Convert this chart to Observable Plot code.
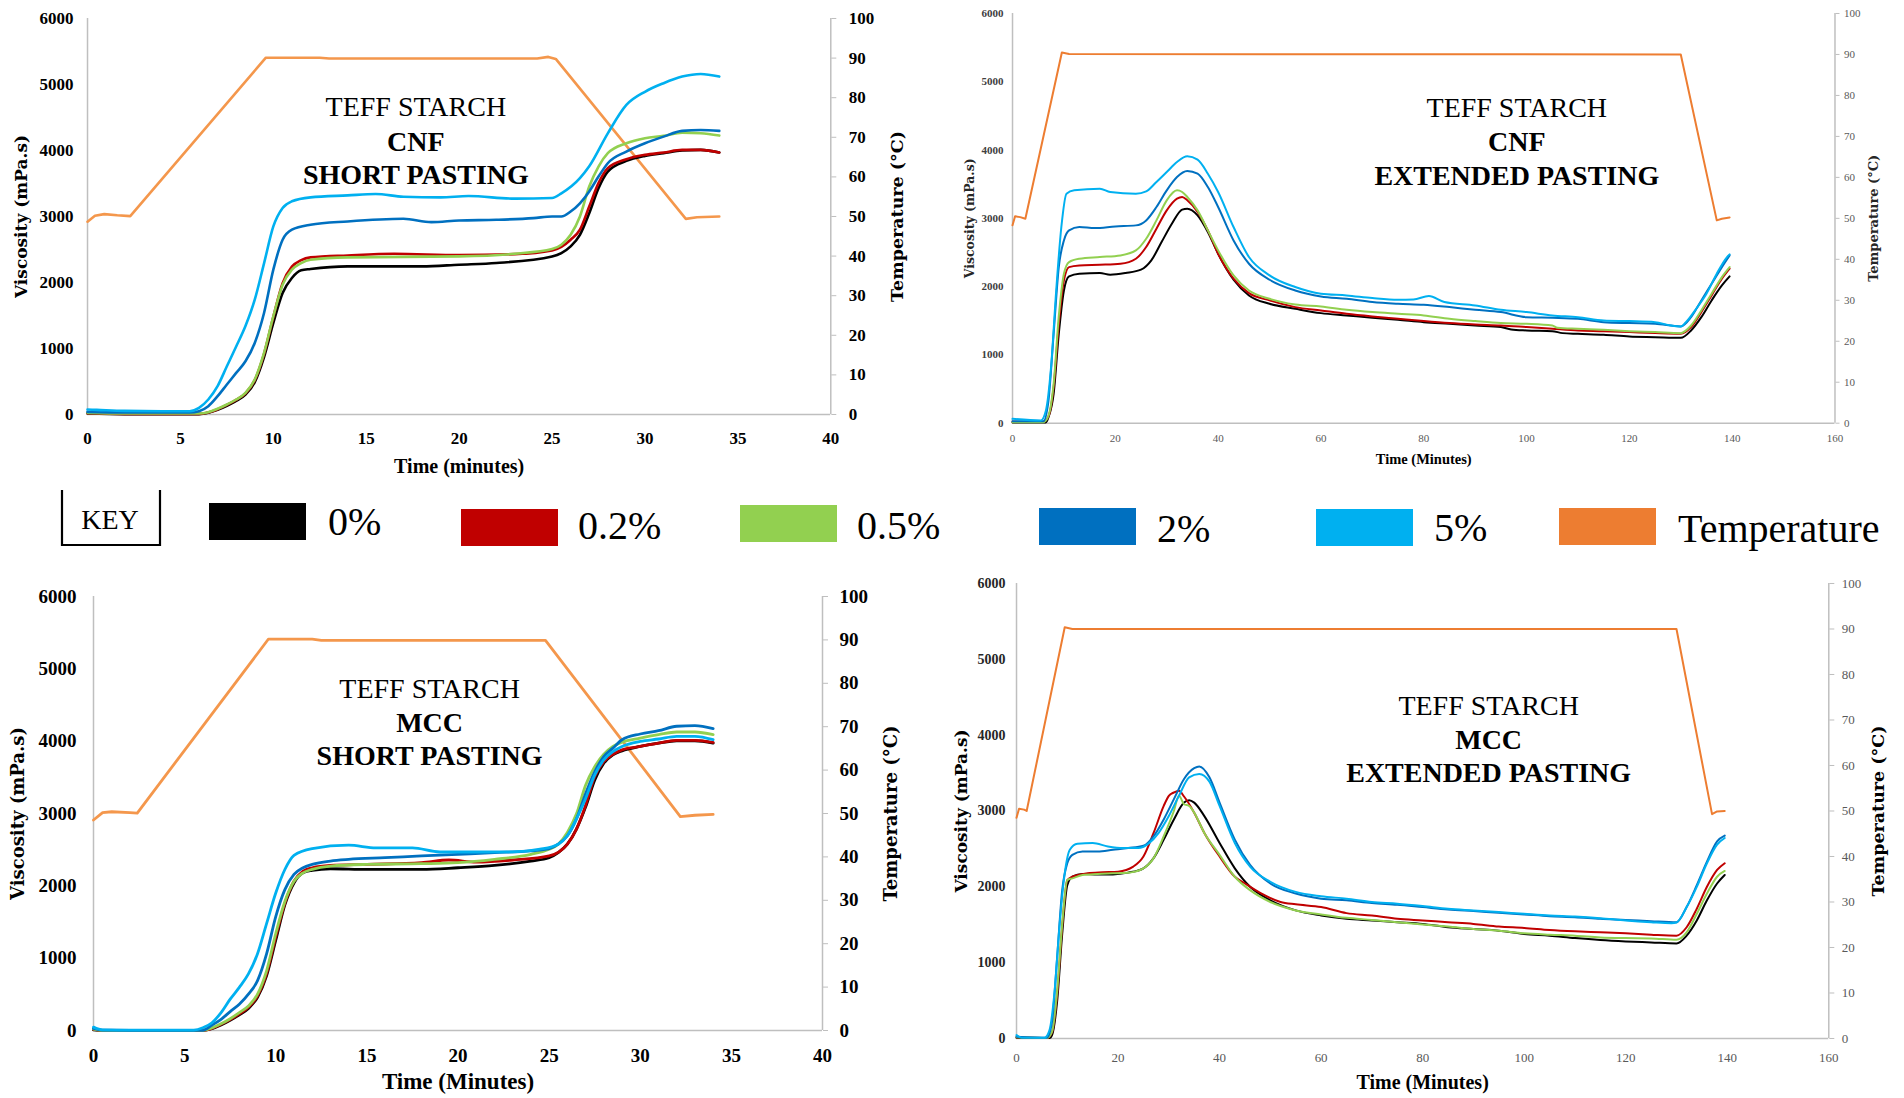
<!DOCTYPE html>
<html><head><meta charset="utf-8">
<script src="https://cdn.jsdelivr.net/npm/d3@7"></script>
<script src="https://cdn.jsdelivr.net/npm/@observablehq/plot@0.6"></script>
<style>
html,body{margin:0;padding:0;background:#fff;}
#root{position:relative;width:1904px;height:1098px;overflow:hidden;background:#fff;}
</style></head><body><div id="root"></div>
<script>
// ---------- DATA: [time (min), value] ----------
// Temperature (°C)
const cnfShortTemp = [[0,48.7],[0.4,50.2],[0.9,50.6],[1.6,50.3],[2.3,50.1],[9.6,90.1],[12.5,90.1],[13,89.9],[24.2,89.9],[24.8,90.3],[25.2,89.8],[32.2,49.4],[32.8,49.8],[34,50]];
const cnfExtTemp = [[0,48.3],[0.5,50.5],[1.5,50.3],[2.5,49.9],[9.6,90.5],[11,90.1],[130,90],[137,49.5],[138,49.9],[139.5,50.2]];
const mccShortTemp = [[0,48.5],[0.5,50.2],[1,50.4],[2,50.2],[2.4,50.1],[9.6,90.2],[12,90.2],[12.5,89.9],[24.8,89.9],[32.2,49.3],[33,49.6],[34,49.8]];
const mccExtTemp = [[0,48.5],[0.5,50.5],[1.5,50.3],[2,50],[9.5,90.4],[11,90],[130,90],[137,49.3],[138,49.9],[139.5,50]];

// Viscosity (mPa.s) — CNF short pasting
const cnfShort0 = [[0,15],[2,5],[6,5],[6.5,25],[7,70],[7.5,130],[8,205],[8.5,300],[9,490],[9.5,870],[10,1387],[10.5,1840],[11,2068],[11.5,2184],[12,2204],[14,2244],[18,2244],[20,2269],[22,2295],[25,2395],[25.5,2446],[26,2547],[26.5,2723],[27,3050],[27.5,3429],[28,3681],[29,3842],[30,3918],[31,3959],[32,3999],[33,4009],[34,3969]];
const cnfShort02 = [[0,20],[2,10],[6,10],[6.5,30],[7,80],[7.5,145],[8,220],[8.5,320],[9,520],[9.5,920],[10,1480],[10.5,1990],[11,2240],[11.5,2340],[12,2380],[14,2410],[16.5,2435],[20,2415],[23,2430],[25,2486],[25.5,2540],[26,2648],[26.5,2800],[27,3150],[27.5,3505],[28,3732],[29,3868],[30,3934],[31,3969],[32,4009],[33,4009],[34,3969]];
const cnfShort05 = [[0,25],[2,15],[6,15],[6.5,35],[7,86],[7.5,151],[8,227],[8.5,328],[9,530],[9.5,933],[10,1488],[10.5,1967],[11,2194],[11.5,2295],[12,2345],[14,2380],[20,2395],[23,2435],[25,2506],[25.5,2572],[26,2723],[26.5,3000],[27,3454],[27.5,3757],[28,3959],[29,4110],[30,4186],[31,4221],[32,4271],[33,4261],[34,4226]];
const cnfShort2 = [[0,40],[2,30],[5.5,30],[6,50],[6.5,126],[7,277],[7.5,454],[8,630],[8.5,807],[9,1084],[9.5,1538],[10,2194],[10.5,2648],[11,2800],[12,2875],[14,2925],[17,2965],[18.5,2915],[20,2940],[22,2950],[24,2975],[25,3000],[25.5,3000],[26,3076],[26.5,3200],[27,3380],[27.5,3605],[28,3807],[29,3984],[30,4110],[31,4210],[32,4297],[33,4310],[34,4297]];
const cnfShort5 = [[0,75],[0.5,70],[2,55],[4,50],[5.5,50],[6,100],[6.5,227],[7,430],[7.5,730],[8,1030],[8.5,1340],[9,1740],[9.5,2290],[10,2850],[10.5,3130],[11,3230],[12,3290],[14,3320],[15.5,3340],[17,3300],[19,3290],[20.5,3310],[23,3270],[25,3280],[25.5,3350],[26.5,3580],[27,3760],[28,4260],[29,4690],[30,4890],[31,5020],[32,5120],[33,5160],[34,5120]];

// CNF extended pasting
const cnfExt0 = [[0,10],[6.5,10],[7,88],[8,430],[9,1309],[10,1944],[11,2150],[13,2190],[17,2199],[19,2174],[22,2199],[25,2248],[27,2384],[29,2653],[31,2921],[33,3127],[34,3142],[36,3044],[38,2800],[40,2482],[43,2101],[46,1871],[50,1749],[55,1676],[60,1612],[65,1578],[70,1544],[75,1514],[80,1480],[85,1456],[90,1431],[95,1407],[97,1373],[100,1358],[105,1348],[107,1319],[110,1309],[115,1294],[120,1270],[125,1260],[130,1250],[132,1358],[134,1553],[136,1798],[138,2018],[139.5,2150]];
const cnfExt02 = [[0,20],[6,20],[7,100],[8,530],[9,1450],[10,2091],[11,2286],[13,2310],[17,2320],[21,2335],[24,2408],[26,2580],[28,2848],[30,3117],[32,3288],[33,3313],[34,3264],[36,3093],[38,2824],[40,2482],[43,2116],[46,1905],[50,1798],[55,1700],[60,1651],[65,1602],[70,1563],[75,1529],[80,1495],[85,1466],[90,1446],[95,1431],[100,1407],[105,1382],[110,1358],[115,1348],[120,1334],[125,1319],[130,1309],[132,1407],[134,1627],[136,1871],[138,2116],[139.5,2262]];
const cnfExt05 = [[0,15],[6,15],[7,112],[8,576],[9,1563],[10,2188],[11,2360],[13,2408],[17,2433],[21,2457],[24,2530],[26,2701],[28,2970],[30,3264],[32,3410],[33,3386],[34,3313],[36,3117],[38,2824],[40,2531],[43,2165],[46,1944],[50,1822],[55,1739],[60,1710],[65,1661],[70,1627],[75,1602],[80,1578],[85,1529],[90,1495],[95,1466],[100,1456],[105,1431],[106,1397],[110,1382],[115,1368],[120,1348],[125,1334],[130,1319],[132,1431],[134,1651],[136,1896],[138,2140],[139.5,2286]];
const cnfExt2 = [[0,29],[6,29],[7,332],[8,1309],[9,2286],[10,2677],[11,2824],[13,2873],[16,2858],[20,2882],[24,2897],[26,2970],[28,3166],[30,3410],[32,3605],[34,3693],[36,3654],[38,3459],[40,3166],[43,2677],[46,2335],[50,2101],[55,1944],[60,1856],[65,1822],[70,1774],[75,1749],[80,1734],[85,1700],[90,1661],[95,1627],[100,1553],[105,1544],[110,1529],[115,1480],[120,1466],[125,1456],[130,1417],[132,1553],[134,1798],[136,2042],[138,2286],[139.5,2457]];
const cnfExt5 = [[0,64],[5.5,39],[6.5,186],[7.5,820],[8.5,1944],[9.5,2873],[10.5,3361],[12,3410],[17,3435],[19,3386],[24,3361],[26,3395],[28,3532],[30,3678],[32,3825],[34,3908],[36,3859],[38,3654],[40,3386],[43,2873],[46,2433],[50,2165],[55,1994],[60,1896],[65,1871],[70,1832],[75,1808],[78,1813],[81,1862],[84,1774],[90,1725],[95,1661],[100,1627],[105,1578],[110,1553],[115,1505],[120,1495],[125,1480],[128,1431],[130,1416],[131,1480],[133,1676],[135,1896],[137,2190],[139,2433],[139.5,2472]];

// MCC short pasting
const mccShort0 = [[0,10],[0.5,2],[6,2],[6.5,25],[7,75],[7.5,140],[8,215],[8.5,305],[9,460],[9.5,760],[10,1248],[10.5,1737],[11,2040],[11.5,2180],[12,2213],[13,2236],[15,2227],[18,2227],[20,2250],[22,2282],[24,2343],[25,2389],[25.5,2459],[26,2576],[26.5,2785],[27,3088],[27.5,3460],[28,3694],[28.5,3810],[29,3866],[30,3927],[31,3973],[32,4006],[33,4006],[34,3973]];
const mccShort02 = [[0,15],[0.5,3],[6,3],[6.5,30],[7,85],[7.5,150],[8,230],[8.5,320],[9,480],[9.5,790],[10,1295],[10.5,1761],[11,2063],[11.5,2203],[12,2250],[13,2282],[15,2296],[18,2320],[19.5,2357],[21,2329],[23,2357],[25,2413],[26,2576],[26.5,2785],[27,3111],[27.5,3507],[28,3717],[28.5,3819],[29,3880],[30,3927],[31,3973],[32,4011],[33,4011],[34,3983]];
const mccShort05 = [[0,20],[0.5,3],[6,3],[6.5,37],[7,93],[7.5,163],[8,247],[8.5,340],[9,503],[9.5,829],[10,1341],[10.5,1784],[11,2063],[11.5,2180],[12,2227],[13,2273],[15,2296],[18,2306],[20,2320],[22,2366],[24,2436],[25,2506],[25.5,2576],[26,2739],[26.5,2995],[27,3391],[27.5,3647],[28,3819],[28.5,3927],[29,3987],[30,4043],[31,4090],[32,4127],[33,4127],[34,4090]];
const mccShort2 = [[0,28],[0.5,5],[2,3],[6,3],[6.5,75],[7,154],[7.5,261],[8,363],[8.5,503],[9,689],[9.5,1062],[10,1574],[10.5,1947],[11,2157],[11.5,2250],[12,2296],[13,2343],[14,2366],[16,2389],[18,2413],[20,2436],[22,2459],[24,2483],[25,2515],[25.5,2576],[26,2692],[26.5,2925],[27,3274],[27.5,3577],[28,3787],[28.5,3904],[29,4020],[30,4099],[31,4145],[32,4206],[33,4215],[34,4173]];
const mccShort5 = [[0,47],[0.5,9],[2,5],[5.5,5],[6,37],[6.5,107],[7,247],[7.5,433],[8,596],[8.5,782],[9,1062],[9.5,1481],[10,1900],[10.5,2226],[11,2422],[12,2515],[14,2562],[15.5,2524],[17.5,2524],[19,2468],[21,2468],[23,2470],[24.5,2506],[25.5,2576],[26,2692],[26.5,2925],[27,3205],[27.5,3531],[28,3741],[28.5,3857],[29,3927],[30,3997],[31,4030],[32,4067],[33,4067],[34,4020]];

// MCC extended pasting
const mccExt0 = [[0,10],[6.5,5],[7,44],[8,489],[9,1378],[10,2022],[11,2133],[13,2169],[16,2164],[19,2164],[22,2187],[25,2244],[27,2378],[29,2622],[31,2889],[33,3111],[34,3142],[35,3111],[37,2933],[40,2578],[43,2244],[46,2000],[50,1822],[55,1689],[60,1622],[65,1578],[70,1556],[75,1533],[80,1511],[85,1467],[90,1444],[95,1422],[100,1378],[105,1356],[110,1324],[115,1298],[120,1280],[125,1267],[130,1253],[132,1356],[134,1556],[136,1822],[138,2044],[139.5,2156]];
const mccExt02 = [[0,15],[6,5],[7,80],[8,580],[9,1480],[10,2089],[11,2133],[14,2178],[17,2191],[20,2200],[23,2267],[25,2400],[27,2711],[29,3067],[30,3200],[31,3244],[32,3267],[33,3191],[35,2978],[37,2711],[40,2400],[43,2133],[45,2044],[48,1920],[52,1800],[55,1769],[60,1733],[65,1653],[70,1622],[75,1578],[80,1556],[85,1533],[90,1511],[95,1476],[100,1458],[105,1431],[110,1413],[115,1400],[120,1387],[125,1369],[130,1356],[132,1467],[134,1711],[136,2000],[138,2222],[139.5,2311]];
const mccExt05 = [[0,15],[6,5],[7,89],[8,622],[9,1511],[10,2089],[11,2111],[13,2156],[16,2169],[19,2178],[22,2187],[25,2244],[27,2378],[29,2667],[31,3000],[32,3200],[33,3089],[34,3067],[35,2978],[37,2711],[40,2422],[43,2133],[46,1956],[50,1800],[55,1689],[60,1636],[65,1591],[70,1564],[75,1533],[80,1502],[85,1476],[90,1444],[95,1422],[100,1387],[105,1369],[110,1356],[115,1333],[120,1324],[125,1320],[130,1302],[132,1400],[134,1644],[136,1911],[138,2133],[139.5,2209]];
const mccExt2 = [[0,22],[6,10],[7,222],[8,1067],[9,1956],[10,2311],[11,2422],[13,2467],[16,2467],[19,2489],[22,2511],[25,2542],[27,2667],[29,2889],[31,3156],[33,3422],[35,3564],[36,3587],[38,3444],[40,3111],[43,2622],[46,2289],[50,2044],[55,1911],[60,1844],[65,1822],[70,1787],[75,1764],[80,1733],[85,1702],[90,1680],[95,1658],[100,1636],[105,1613],[110,1600],[115,1578],[120,1564],[125,1547],[130,1533],[132,1733],[134,2022],[136,2333],[138,2600],[139.5,2676]];
const mccExt5 = [[0,44],[1,9],[5.5,9],[6.5,111],[7.5,622],[8.5,1511],[9.5,2178],[10.5,2489],[12,2569],[15,2578],[18,2533],[21,2511],[24,2511],[26,2569],[28,2711],[30,2933],[32,3200],[34,3444],[36,3489],[38,3387],[40,3067],[43,2578],[46,2267],[50,2067],[55,1933],[60,1876],[65,1844],[70,1800],[75,1778],[80,1747],[85,1711],[90,1689],[95,1667],[100,1644],[105,1622],[110,1609],[115,1587],[120,1556],[125,1533],[129,1520],[130,1530],[132,1733],[134,2000],[136,2311],[138,2556],[139.5,2644]];

// Labels / legend
const seriesLabels = ["0%", "0.2%", "0.5%", "2%", "5%"];
const seriesColors = ["#000000", "#C00000", "#92D050", "#0070C0", "#00B0F0"];
const tempLabel = "Temperature";
const tempColor = "#ED7D31";
const viscTicks = [0, 1000, 2000, 3000, 4000, 5000, 6000];
const tempTicks = [0, 10, 20, 30, 40, 50, 60, 70, 80, 90, 100];
const shortTimeTicks = [0, 5, 10, 15, 20, 25, 30, 35, 40];
const extTimeTicks = [0, 20, 40, 60, 80, 100, 120, 140, 160];
const yLabel = "Viscosity (mPa.s)";
const rLabel = "Temperature (°C)";

// ---------- LAYOUT ----------
const SERIF = "'Liberation Serif', 'Times New Roman', serif";
const WIDE = "'DejaVu Serif', serif";
const panels = [
  { series:[cnfShort0,cnfShort02,cnfShort05,cnfShort2,cnfShort5], temp:cnfShortTemp, tempStroke:"#F4974C",
    lines:["TEFF STARCH","CNF","SHORT PASTING"], xTitle:"Time (minutes)", xTicks:shortTimeTicks,
    frame:{l:86.7,t:18,r:830,b:414}, m:{l:80,r:80,t:12,b:65}, lw:2.6,
    ann:{x:17.67, y:[4652,4121,3621], size:28},
    tick:{yFont:17, yPad:14, yW:"bold", yC:"#000", xFont:17, xPad:17, xW:"bold", xC:"#000", rFont:17, rPad:13, rW:"bold", rC:"#000", rSize:5},
    titles:{yFont:17, yDx:-66, rFont:17.5, rDx:67, xFont:20, xDy:52, yC:"#000", xC:"#000"} },
  { series:[cnfExt0,cnfExt02,cnfExt05,cnfExt2,cnfExt5], temp:cnfExtTemp, tempStroke:tempColor,
    lines:["TEFF STARCH","CNF","EXTENDED PASTING"], xTitle:"Time (Minutes)", xTicks:extTimeTicks,
    frame:{l:1011.5,t:13,r:1834,b:422.7}, m:{l:60,r:50,t:10,b:50}, lw:2,
    ann:{x:98.1, y:[4609,4111,3613], size:28},
    tick:{yFont:11, yPad:9, yW:"bold", yC:"#404040", xFont:11, xPad:11, xW:"normal", xC:"#595959", rFont:11, rPad:5, rW:"normal", rC:"#595959", rSize:4},
    titles:{yFont:12.5, yDx:-43, rFont:13, rDx:39, xFont:14.5, xDy:36, yC:"#262626", xC:"#000"} },
  { series:[mccShort0,mccShort02,mccShort05,mccShort2,mccShort5], temp:mccShortTemp, tempStroke:"#F4974C",
    lines:["TEFF STARCH","MCC","SHORT PASTING"], xTitle:"Time (Minutes)", xTicks:shortTimeTicks,
    frame:{l:93,t:596,r:822,b:1030}, m:{l:85,r:80,t:12,b:62}, lw:2.8,
    ann:{x:18.44, y:[4714,4244,3788], size:28},
    tick:{yFont:19, yPad:17, yW:"bold", yC:"#000", xFont:19, xPad:18, xW:"bold", xC:"#000", rFont:19, rPad:12, rW:"bold", rC:"#000", rSize:5},
    titles:{yFont:18, yDx:-75, rFont:18, rDx:69, xFont:23, xDy:51, yC:"#000", xC:"#000"} },
  { series:[mccExt0,mccExt02,mccExt05,mccExt2,mccExt5], temp:mccExtTemp, tempStroke:tempColor,
    lines:["TEFF STARCH","MCC","EXTENDED PASTING"], xTitle:"Time (Minutes)", xTicks:extTimeTicks,
    frame:{l:1015.7,t:583,r:1828,b:1038}, m:{l:65,r:65,t:12,b:58}, lw:2,
    ann:{x:93.0, y:[4378,3930,3495], size:28},
    tick:{yFont:14, yPad:11, yW:"bold", yC:"#262626", xFont:13, xPad:14, xW:"normal", xC:"#595959", rFont:13, rPad:8, rW:"normal", rC:"#595959", rSize:5},
    titles:{yFont:17, yDx:-55, rFont:17.5, rDx:50, xFont:20, xDy:44, yC:"#000", xC:"#000"} }
];

const root = document.getElementById("root");

function drawPanel(p) {
  const f = p.frame, m = p.m, tk = p.tick, tt = p.titles;
  const xMax = p.xTicks[p.xTicks.length - 1];
  const W = (f.r - f.l) + m.l + m.r;
  const H = (f.b - f.t) + m.t + m.b;
  const k = 6000 / 100; // temperature -> viscosity scale factor for the secondary axis
  const chart = Plot.plot({
    width: W, height: H,
    marginLeft: m.l, marginRight: m.r, marginTop: m.t, marginBottom: m.b,
    x: {domain: [0, xMax]},
    y: {domain: [0, 6000]},
    style: {fontFamily: SERIF, background: "transparent", overflow: "visible", color: "#000"},
    marks: [
      Plot.ruleY([0], {stroke: "#BFBFBF", strokeWidth: 1.5}),
      Plot.ruleX([0, xMax], {stroke: "#BFBFBF", strokeWidth: 1.5}),
      Plot.axisX(p.xTicks, {tickSize: 0, tickPadding: tk.xPad, tickFormat: d => String(d), fontSize: tk.xFont, fontWeight: tk.xW, fill: tk.xC, label: null}),
      Plot.axisY(viscTicks, {anchor: "left", tickSize: 0, tickPadding: tk.yPad, tickFormat: d => String(d), fontSize: tk.yFont, fontWeight: tk.yW, fill: tk.yC, label: null}),
      Plot.axisY(tempTicks.map(d => d * k), {anchor: "right", tickSize: tk.rSize, tickPadding: tk.rPad,
        tickFormat: d => String(Math.round(d / k)), stroke: "#BFBFBF", fontSize: tk.rFont, fontWeight: tk.rW, fill: tk.rC, label: null}),
      Plot.line(p.temp, {x: d => d[0], y: d => d[1] * k, stroke: p.tempStroke, strokeWidth: p.lw}),
      ...p.series.map((s, i) => Plot.line(s, {x: d => d[0], y: d => d[1], stroke: seriesColors[i], strokeWidth: p.lw, curve: "monotone-x"})),
      Plot.text([p.lines[0]], {x: () => p.ann.x, y: () => p.ann.y[0], text: d => d, fontSize: p.ann.size, fontFamily: SERIF, fontWeight: "normal", fill: "#000", lineAnchor: "middle"}),
      Plot.text([p.lines[1]], {x: () => p.ann.x, y: () => p.ann.y[1], text: d => d, fontSize: p.ann.size, fontFamily: SERIF, fontWeight: "bold", fill: "#000", lineAnchor: "middle"}),
      Plot.text([p.lines[2]], {x: () => p.ann.x, y: () => p.ann.y[2], text: d => d, fontSize: p.ann.size, fontFamily: SERIF, fontWeight: "bold", fill: "#000", lineAnchor: "middle"}),
      Plot.text([yLabel], {frameAnchor: "left", dx: tt.yDx, rotate: -90, text: d => d, textAnchor: "middle", lineAnchor: "middle", fontSize: tt.yFont, fontFamily: WIDE, fontWeight: "bold", fill: tt.yC}),
      Plot.text([rLabel], {frameAnchor: "right", dx: tt.rDx, rotate: -90, text: d => d, textAnchor: "middle", lineAnchor: "middle", fontSize: tt.rFont, fontFamily: WIDE, fontWeight: "bold", fill: tt.yC}),
      Plot.text([p.xTitle], {frameAnchor: "bottom", dy: tt.xDy, text: d => d, textAnchor: "middle", lineAnchor: "middle", fontSize: tt.xFont, fontFamily: SERIF, fontWeight: "bold", fill: tt.xC})
    ]
  });
  chart.style.position = "absolute";
  chart.style.left = (f.l - m.l) + "px";
  chart.style.top = (f.t - m.t) + "px";
  root.appendChild(chart);
}
panels.forEach(drawPanel);

// ---------- LEGEND (KEY) ----------
const legendLabels = [...seriesLabels, tempLabel];
const legendColors = [...seriesColors, tempColor];
const swatchX = [209, 461, 740, 1039, 1316, 1559];
const swatchY = [503, 509, 505, 508, 509, 508];
const labelX = [328, 578, 857, 1157, 1434, 1678];
const labelCapY = [522, 526, 526, 529, 528, 529];
const ns = "http://www.w3.org/2000/svg";
const leg = document.createElementNS(ns, "svg");
leg.setAttribute("width", 1904); leg.setAttribute("height", 90);
leg.setAttribute("viewBox", "0 470 1904 90");
leg.style.position = "absolute"; leg.style.left = "0px"; leg.style.top = "470px";
let html = `<path d="M62,490V545H160V490" fill="none" stroke="#000" stroke-width="2.2"/>`;
html += `<text x="110" y="529" text-anchor="middle" font-family="${SERIF}" font-size="28" fill="#000">KEY</text>`;
legendLabels.forEach((lab, i) => {
  html += `<rect x="${swatchX[i]}" y="${swatchY[i]}" width="97" height="37" fill="${legendColors[i]}"/>`;
  html += `<text x="${labelX[i]}" y="${labelCapY[i] + 13}" font-family="${SERIF}" font-size="40" fill="#000">${lab}</text>`;
});
leg.innerHTML = html;
root.appendChild(leg);
</script></body></html>
